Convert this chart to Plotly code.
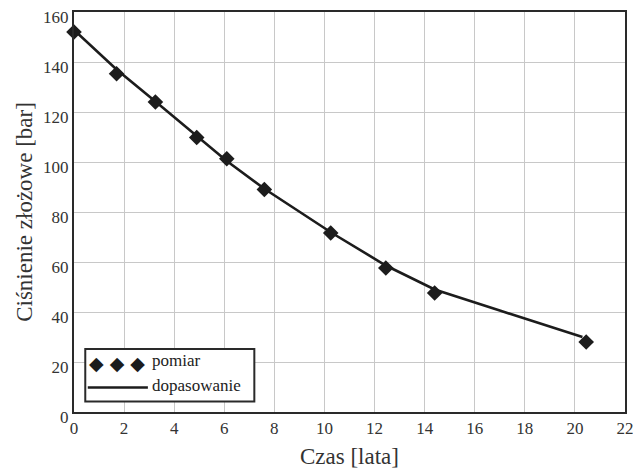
import plotly.graph_objects as go

# measured data (pomiar)
t_meas = [0.0, 1.7, 3.25, 4.9, 6.1, 7.6, 10.25, 12.45, 14.4, 20.45]
p_meas = [152.0, 135.3, 124.0, 109.8, 101.3, 89.0, 71.6, 57.6, 47.6, 28.0]

# fitted curve (dopasowanie)
t_fit = [0.0, 1.7, 3.3, 4.9, 6.1, 7.6, 10.3, 12.45, 14.4, 17.0, 20.3]
p_fit = [152.8, 137.0, 123.8, 110.3, 100.4, 89.3, 71.6, 58.6, 49.0, 40.6, 30.0]

x_ticks = [0, 2, 4, 6, 8, 10, 12, 14, 16, 18, 20, 22]
y_ticks = [0, 20, 40, 60, 80, 100, 120, 140, 160]

FONT = "Liberation Serif"
INK = "#1c1c1c"

fig = go.Figure()
fig.add_trace(go.Scatter(x=t_fit, y=p_fit, mode="lines", name="dopasowanie",
                         line=dict(color=INK, width=2.6), showlegend=False, cliponaxis=False))
fig.add_trace(go.Scatter(x=t_meas, y=p_meas, mode="markers", name="pomiar",
                         marker=dict(symbol="diamond", size=12, color=INK), showlegend=False,
                         cliponaxis=False))

axis_common = dict(showline=True, linecolor="#2a2a2a", linewidth=2, mirror=True,
                   showgrid=True, gridcolor="#c8c8c8", gridwidth=1.2, zeroline=False,
                   ticks="", automargin=False, ticklabeloverflow="allow",
                   tickfont=dict(family=FONT, size=17, color="#333333"))

fig.update_xaxes(range=[0, 22], tickvals=x_ticks, ticktext=[str(v) for v in x_ticks],
                 title=dict(text="Czas [lata]", font=dict(family=FONT, size=23, color="#333333"),
                            standoff=10), **axis_common)
fig.update_yaxes(range=[0, 160], tickvals=y_ticks, ticktext=[str(v) for v in y_ticks],
                 ticklabelshift=5,
                 title=dict(text="Ciśnienie złożowe [bar]", font=dict(family=FONT, size=23, color="#333333"),
                            standoff=4), **axis_common)

# legend box drawn in plot coordinates
fig.add_shape(type="rect", xref="x", yref="y", x0=0.45, x1=7.2, y0=4.2, y1=25.2,
              line=dict(color="#2a2a2a", width=2), fillcolor="white", layer="above")
fig.add_shape(type="line", xref="x", yref="y", x0=0.55, x1=2.95, y0=9.8, y1=9.8,
              line=dict(color=INK, width=2.6), layer="above")
fig.add_annotation(x=0.5, y=19.8, xref="x", yref="y", xanchor="left", yanchor="middle",
                   text="◆ ◆ ◆", showarrow=False, font=dict(family="DejaVu Sans", size=19, color=INK))
fig.add_annotation(x=3.05, y=20.6, xref="x", yref="y", xanchor="left", yanchor="middle",
                   text="pomiar", showarrow=False, font=dict(family=FONT, size=17, color="#222222"))
fig.add_annotation(x=3.05, y=10.6, xref="x", yref="y", xanchor="left", yanchor="middle",
                   text="dopasowanie", showarrow=False, font=dict(family=FONT, size=17, color="#222222"))

# page body has an 8px margin, so the figure is offset by 8px
fig.update_layout(width=633, height=465, margin=dict(l=66, r=16, t=4, b=61),
                  paper_bgcolor="white", plot_bgcolor="white", showlegend=False,
                  font=dict(family=FONT))

fig.write_html("out.html")
